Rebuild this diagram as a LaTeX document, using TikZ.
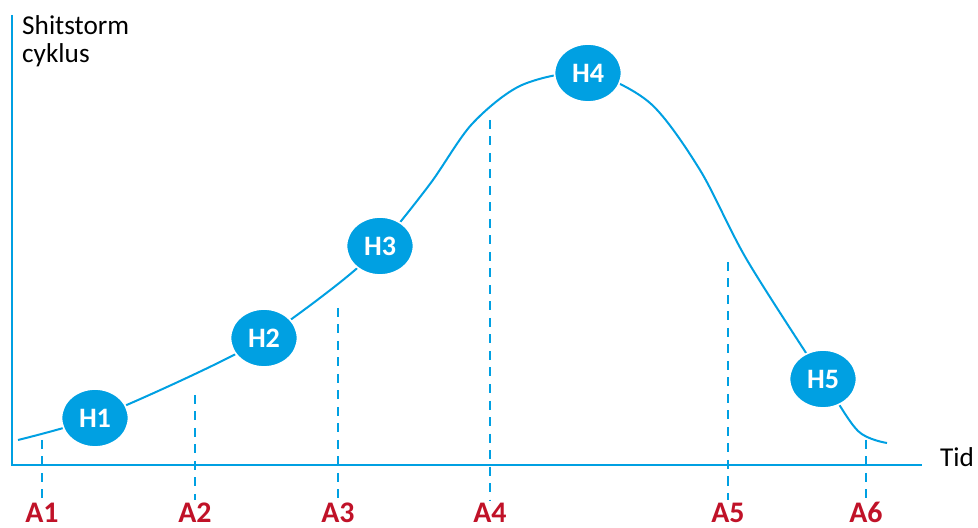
\documentclass[tikz,border=0pt]{standalone}
\usepackage{fontspec}
\setmainfont{Carlito}
\usetikzlibrary{shapes.geometric,backgrounds}
\definecolor{cycleblue}{RGB}{0,160,226}
\definecolor{cyclered}{RGB}{192,18,40}

\begin{document}
\begin{tikzpicture}[x=0.2mm,y=-0.2mm,
    phase/.style={ellipse, fill=cycleblue, draw=white, line width=1pt,
      minimum width=13.4mm, minimum height=11.6mm, inner sep=0pt,
      text=white, font=\fontsize{16}{18}\selectfont\bfseries},
    axisline/.style={cycleblue, line width=0.55mm},
    tickline/.style={cycleblue, line width=0.4mm, dash pattern=on 1.8mm off 1.5mm},
    ticklabel/.style={text=cyclered, inner sep=0pt, anchor=base,
      font=\fontsize{17}{19}\selectfont\bfseries},
    axistext/.style={anchor=west, font=\fontsize{15.5}{17}\selectfont}]
  \useasboundingbox (0,0) rectangle (978,528);

  % axes
  \coordinate (o) at (12,465);
  \coordinate (ytop) at (12,15);
  \coordinate (xend) at (922,465);
  \draw[axisline] (ytop) -- (o) -- (xend);
  \node[axistext] (ylab1) at (16,25) {Shitstorm};
  \node[axistext] (ylab2) at (16,55) {cyklus};
  \node[axistext] (xlab) at (934,457) {Tid};

  % phases
  \node[phase] (h1) at (95,418) {H1};
  \node[phase] (h2) at (264,338) {H2};
  \node[phase] (h3) at (380,246) {H3};
  \node[phase] (h4) at (588,73) {H4};
  \node[phase] (h5) at (823,379) {H5};

  \begin{scope}[on background layer]
    \draw[cycleblue, line width=0.4mm] plot[smooth, tension=0.5] coordinates
      {(18,440) (h1.center) (195,374) (h2.center) (338,284)
       (h3.center) (430,184) (472,124) (522,85) (h4.center)
       (650,103) (700,170) (747,260) (h5.center) (858,431) (887,443)};
  \end{scope}

  % time marks
  \foreach \name/\x/\top in {A1/42/440, A2/195/395, A3/338/308,
                             A4/490/120, A5/728/262, A6/866/440} {
    \coordinate (\name top) at (\x,\top);
    \coordinate (\name end) at (\x,500);
    \node[ticklabel] (\name) at (\x,523) {\name};
    \draw[tickline] (\name top) -- (\name end);
  }
\end{tikzpicture}
\end{document}
